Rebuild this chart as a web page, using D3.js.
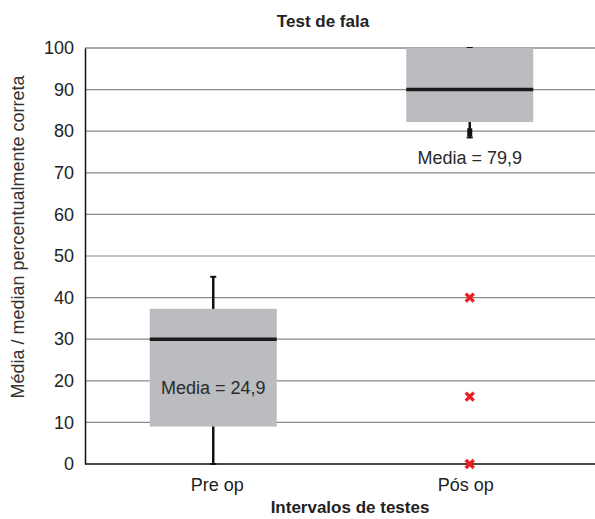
<!DOCTYPE html>
<html>
<head>
<meta charset="utf-8">
<script src="https://cdn.jsdelivr.net/npm/d3@7"></script>
<style>
  body { margin: 0; background: #fff; }
  text { font-family: "Liberation Sans", Arial, sans-serif; }
</style>
</head>
<body>
<div id="chart"></div>
<script>
// data
var categories = ["Pre op", "Pós op"];
var whiskerLow  = [0, 78.5];
var boxLow      = [9, 82.2];
var medians     = [30, 90];
var boxHigh     = [37.3, 100];
var whiskerHigh = [45, 100];
var meanLabels  = ["Media = 24,9", "Media = 79,9"];
var meanLabelY  = [16.8, 72];
var outlierCat  = ["Pós op", "Pós op", "Pós op"];
var outlierVal  = [40, 16.2, 0];
var yTicks = [0, 10, 20, 30, 40, 50, 60, 70, 80, 90, 100];

var width = 595, height = 519;
var m = { left: 85, right: -3, top: 48, bottom: 55 };

var svg = d3.select("#chart").append("svg")
    .attr("width", width).attr("height", height);

var x = d3.scaleBand().domain(categories)
    .range([m.left, width - m.right]).paddingInner(0).paddingOuter(0);
var y = d3.scaleLinear().domain([0, 100]).range([height - m.bottom, m.top]);

var boxW = x.bandwidth() * 0.495;

// gridlines
svg.append("g").selectAll("line").data(yTicks).enter().append("line")
    .attr("x1", m.left).attr("x2", width)
    .attr("y1", function(d) { return y(d); }).attr("y2", function(d) { return y(d); })
    .attr("stroke", function(d) { return d === 0 ? "#111" : (d === 100 ? "#555" : "#8a8a8a"); })
    .attr("stroke-width", function(d) { return d === 0 ? 1.5 : 1.2; });

// y axis
var yAxis = svg.append("g").attr("transform", "translate(" + m.left + ",0)")
    .call(d3.axisLeft(y).tickValues(yTicks).tickSize(0).tickPadding(11));
yAxis.select(".domain").attr("stroke", "#111").attr("stroke-width", 1.5);
yAxis.selectAll("text").attr("font-size", 18).attr("fill", "#222")
    .attr("font-family", "Liberation Sans, Arial, sans-serif");

var rows = categories.map(function(c, i) {
    return { cat: c, wl: whiskerLow[i], q1: boxLow[i], med: medians[i], q3: boxHigh[i],
             wh: whiskerHigh[i], label: meanLabels[i], ly: meanLabelY[i] };
});

var g = svg.append("g").selectAll("g").data(rows).enter().append("g")
    .attr("transform", function(d) { return "translate(" + (x(d.cat) + x.bandwidth() / 2) + ",0)"; });

// whiskers
g.append("line").attr("x1", 0).attr("x2", 0)
    .attr("y1", function(d) { return y(d.wh); }).attr("y2", function(d) { return y(d.wl); })
    .attr("stroke", "#111").attr("stroke-width", 2.5);
g.append("line").attr("x1", -3).attr("x2", 3)
    .attr("y1", function(d) { return y(d.wh); }).attr("y2", function(d) { return y(d.wh); })
    .attr("stroke", "#111").attr("stroke-width", 2);
g.append("line").attr("x1", -3).attr("x2", 3)
    .attr("y1", function(d) { return y(d.wl); }).attr("y2", function(d) { return y(d.wl); })
    .attr("stroke", "#111").attr("stroke-width", 2);
// thick short whisker on Pós op
g.filter(function(d) { return d.q1 - d.wl < 5; }).append("rect")
    .attr("x", -2.5).attr("width", 5)
    .attr("y", function(d) { return y(d.q1 - 1.5); })
    .attr("height", function(d) { return y(d.wl + 0.3) - y(d.q1 - 1.5); })
    .attr("fill", "#111");

// boxes
g.append("rect").attr("x", -boxW / 2).attr("width", boxW)
    .attr("y", function(d) { return y(d.q3); })
    .attr("height", function(d) { return y(d.q1) - y(d.q3); })
    .attr("fill", "#bbbcc0");
g.append("line").attr("x1", -boxW / 2).attr("x2", boxW / 2)
    .attr("y1", function(d) { return y(d.med); }).attr("y2", function(d) { return y(d.med); })
    .attr("stroke", "#1a1a1a").attr("stroke-width", 3.5);

g.append("text").attr("text-anchor", "middle")
    .attr("y", function(d) { return y(d.ly); })
    .attr("font-size", 18).attr("fill", "#2a2a2a")
    .text(function(d) { return d.label; });

// outliers
var outliers = outlierCat.map(function(c, i) { return { cat: c, v: outlierVal[i] }; });
svg.append("g").selectAll("path").data(outliers).enter().append("path")
    .attr("transform", function(d) { return "translate(" + (x(d.cat) + x.bandwidth() / 2) + "," + y(d.v) + ")"; })
    .attr("d", "M-4,-4L4,4M4,-4L-4,4")
    .attr("stroke", "#ee1c25").attr("stroke-width", 3.4).attr("fill", "none");

// x labels
svg.append("g").selectAll("text").data(categories).enter().append("text")
    .attr("x", function(d, i) { return x(d) + x.bandwidth() / 2 + (i === 0 ? 4 : -4); })
    .attr("y", 491).attr("text-anchor", "middle")
    .attr("font-size", 18).attr("fill", "#222")
    .text(function(d) { return d; });

svg.append("text").attr("x", 350).attr("y", 513).attr("text-anchor", "middle")
    .attr("font-size", 17).attr("font-weight", "bold").attr("fill", "#222")
    .text("Intervalos de testes");

svg.append("text").attr("x", 323).attr("y", 27).attr("text-anchor", "middle")
    .attr("font-size", 17).attr("font-weight", "bold").attr("fill", "#222")
    .text("Test de fala");

svg.append("text")
    .attr("transform", "translate(24,237) rotate(-90)")
    .attr("text-anchor", "middle").attr("font-size", 18).attr("fill", "#333")
    .text("Média / median percentualmente correta");
</script>
</body>
</html>
